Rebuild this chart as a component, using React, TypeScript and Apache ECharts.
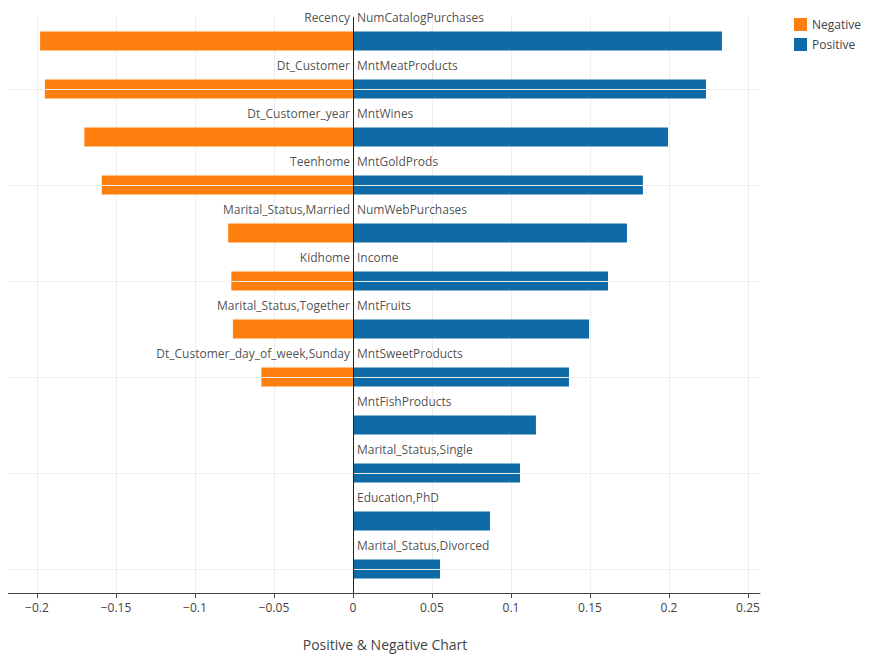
import { useEffect, useRef } from 'react';
import * as echarts from 'echarts';

const positiveNames = [
  'NumCatalogPurchases', 'MntMeatProducts', 'MntWines', 'MntGoldProds', 'NumWebPurchases', 'Income',
  'MntFruits', 'MntSweetProducts', 'MntFishProducts', 'Marital_Status,Single', 'Education,PhD', 'Marital_Status,Divorced',
];
const positiveValues = [0.2335, 0.2234, 0.1994, 0.1835, 0.1734, 0.1614, 0.1494, 0.1367, 0.1158, 0.1057, 0.0867, 0.0551];
const negativeNames = [
  'Recency', 'Dt_Customer', 'Dt_Customer_year', 'Teenhome', 'Marital_Status,Married', 'Kidhome',
  'Marital_Status,Together', 'Dt_Customer_day_of_week,Sunday',
];
const negativeValues = [-0.198, -0.195, -0.170, -0.159, -0.079, -0.077, -0.076, -0.058];
const xTicks = [-0.2, -0.15, -0.1, -0.05, 0, 0.05, 0.1, 0.15, 0.2, 0.25];

const FONT = '"Open Sans", sans-serif';
const ORANGE = '#FF7F0E';
const BLUE = '#0F6BA8';

export default function App() {
  const ref = useRef<HTMLDivElement>(null);

  useEffect(() => {
    if (!ref.current) return;
    const chart = echarts.init(ref.current, undefined, { renderer: 'svg' });
    const rows = positiveNames.map((_, i) => String(i));
    const gridRows = rows.filter((_, i) => i % 2 === 1);

    chart.setOption({
      animation: false,
      textStyle: { fontFamily: FONT, color: '#444' },
      title: {
        text: 'Positive & Negative Chart',
        left: 380, top: 632, textAlign: 'center',
        textStyle: { fontFamily: FONT, fontSize: 14, fontWeight: 'normal', color: '#444' },
      },
      legend: {
        orient: 'vertical', left: 789, top: 13, itemWidth: 13, itemHeight: 13, itemGap: 7,
        icon: 'rect',
        textStyle: { fontFamily: FONT, fontSize: 12, color: '#444' },
        data: ['Negative', 'Positive'],
      },
      grid: { left: 3, right: 109, top: 17, bottom: 69 },
      xAxis: {
        type: 'value', min: -0.2215, max: 0.2576,
        axisLine: { show: true, lineStyle: { color: '#444' } },
        axisTick: { show: true, length: 5, lineStyle: { color: '#444' }, customValues: xTicks },
        axisLabel: {
          customValues: xTicks, color: '#444', fontSize: 12, fontFamily: FONT, margin: 8,
          formatter: (v: number) => (v < 0 ? '\u2212' + String(+(-v).toFixed(2)) : String(+v.toFixed(2))),
        },
        splitLine: { show: true, lineStyle: { color: '#eee' } },
      },
      yAxis: {
        type: 'category', inverse: true, data: rows,
        axisLine: { show: false }, axisTick: { show: false }, axisLabel: { show: false },
        splitLine: { show: false },
      },
      series: [
        {
          name: 'Negative', type: 'bar', stack: 'a', barWidth: 19, itemStyle: { color: ORANGE },
          data: negativeValues,
          markLine: {
            silent: true, symbol: 'none', label: { show: false },
            lineStyle: { color: '#eee', type: 'solid', width: 1 },
            data: gridRows.map((r) => ({ yAxis: r })),
          },
        },
        {
          name: 'Positive', type: 'bar', stack: 'a', barWidth: 19, itemStyle: { color: BLUE },
          data: positiveValues,
          markLine: {
            silent: true, symbol: 'none', label: { show: false },
            lineStyle: { color: '#222', type: 'solid', width: 1 },
            data: [{ xAxis: 0 }],
          },
        },
        {
          type: 'scatter', symbolSize: 0, silent: true,
          data: negativeNames.map((n, i) => ({ value: [0, i], name: n })),
          label: {
            show: true, position: 'inside', offset: [-3, -24], align: 'right', verticalAlign: 'middle',
            formatter: (p: any) => p.name, color: '#222', fontSize: 12, fontFamily: FONT,
          },
        },
        {
          type: 'scatter', symbolSize: 0, silent: true,
          data: positiveNames.map((n, i) => ({ value: [0, i], name: n })),
          label: {
            show: true, position: 'inside', offset: [4, -24], align: 'left', verticalAlign: 'middle',
            formatter: (p: any) => p.name, color: '#222', fontSize: 12, fontFamily: FONT,
          },
        },
      ],
    });
    return () => chart.dispose();
  }, []);

  return <div ref={ref} style={{ width: 869, height: 662, margin: -8 }} />;
}
